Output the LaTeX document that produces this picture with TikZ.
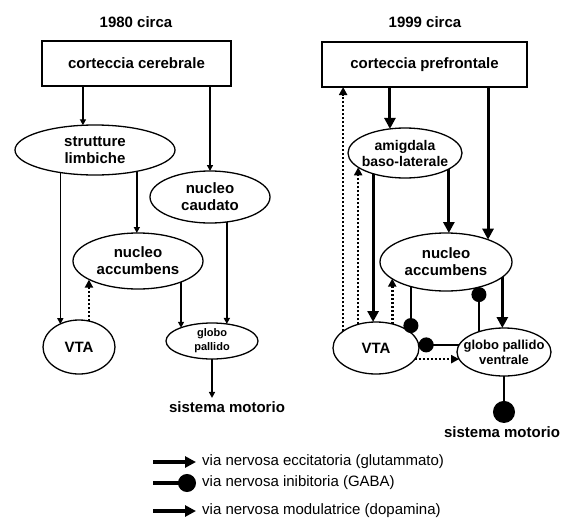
\documentclass[tikz,border=0pt]{standalone}
\usepackage{fontspec}
\setmainfont{Liberation Sans}
\usetikzlibrary{shapes.geometric,arrows.meta}
\pgfdeclarelayer{bg}
\pgfsetlayers{bg,main}
\tikzstyle{area}=[draw=black, line width=1.3pt, outer sep=0pt, minimum width=189pt, minimum height=45pt, font=\bfseries\fontsize{15}{17}\selectfont]
\tikzstyle{region}=[draw=black, shape=ellipse, line width=1.3pt, inner sep=0pt, outer sep=0pt, align=center, font=\bfseries\fontsize{15}{17}\selectfont]
\tikzstyle{tag}=[font=\bfseries\fontsize{15}{17}\selectfont]
\tikzstyle{link}=[line width=1.4pt, -{Triangle[length=6pt,width=6pt]}]
\tikzstyle{exc}=[line width=3pt, -{Triangle[length=11pt,width=11pt]}]
\tikzstyle{inh}=[line width=1.8pt, -{Circle[length=15pt]}]
\tikzstyle{mod}=[line width=2.6pt, dash pattern=on 2pt off 2pt, -{Triangle[length=8pt,width=8pt]}]
\tikzstyle{key}=[line width=3.5pt]
\tikzstyle{keytxt}=[anchor=west, inner xsep=6pt, font=\fontsize{15}{17}\selectfont]

\begin{document}
\begin{tikzpicture}[x=1pt, y=-1pt]
    \useasboundingbox (0,0) rectangle (567,522);

    % 1980
    \node [tag] (t80) at (136, 22) {1980 circa};
    \node [area] (cc) at (136.5, 63.5) {corteccia cerebrale};
    \node [region, minimum width=160pt, minimum height=50pt] (sl) at (95, 150) {strutture\\limbiche};
    \node [region, minimum width=120pt, minimum height=52pt] (nc) at (210, 197) {nucleo\\caudato};
    \node [region, minimum width=130pt, minimum height=56pt] (na) at (138, 261) {nucleo\\accumbens};
    \node [region, minimum width=72pt, minimum height=54pt] (vta) at (79, 347) {VTA};
    \node [region, minimum width=92pt, minimum height=36pt, font=\bfseries\fontsize{11}{14}\selectfont] (gp) at (212, 341) {globo\\pallido};
    \node [tag] (sm) at (227, 407) {sistema motorio};

    % 1999
    \node [tag] (t99) at (425, 22) {1999 circa};
    \node [area, minimum width=205pt] (cp) at (424.5, 64.5) {corteccia prefrontale};
    \node [region, minimum width=114pt, minimum height=50pt, inner xsep=-4pt, font=\bfseries\fontsize{14}{16}\selectfont] (am) at (405, 153) {amigdala\\baso-laterale};
    \node [region, minimum width=132pt, minimum height=58pt] (nar) at (446, 262) {nucleo\\accumbens};
    \node [region, minimum width=86pt, minimum height=52pt] (vtar) at (376, 348) {VTA};
    \node [region, minimum width=94pt, minimum height=48pt, inner xsep=-9pt, font=\bfseries\fontsize{13}{15}\selectfont] (gpv) at (504, 352) {globo pallido\\ventrale};
    \node [tag] (smr) at (502, 432) {sistema motorio};

    % legend
    \coordinate (k1) at (153, 462);
    \coordinate (k2) at (153, 483);
    \coordinate (k3) at (153, 511);
    \node [keytxt] (e1) at (196, 462) {via nervosa eccitatoria (glutammato)};
    \node [keytxt] (e2) at (196, 483) {via nervosa inibitoria (GABA)};
    \node [keytxt] (e3) at (196, 511) {via nervosa modulatrice (dopamina)};

    \begin{pgfonlayer}{bg}
        \draw [link] (cc.south -| sl.116) -- (sl.116);
        \draw [link] (cc.south -| nc.north) -- (nc.north);
        \draw [link] (sl.-27) -- (sl.-27 |- na.north);
        \draw [link] (sl.-147) -- (sl.-147 |- vta.130);
        \draw [link] (nc.-56) -- (nc.-56 |- gp.49);
        \draw [link] (na.-26) -- (na.-26 |- gp.157);
        \draw [link] (gp.south) -- (gp.south |- sm.north);
        \draw [mod] (vta.69) -- (vta.69 |- na.-159);

        \draw [exc] (cp.south -| am.122) -- (am.122);
        \draw [exc] (cp.south -| nar.28) -- (nar.28);
        \draw [exc] (am.-20) -- (am.-20 |- nar.north);
        \draw [exc] (am.-147) -- (am.-147 |- vtar.north);
        \draw [exc] (nar.-15) -- (nar.-15 |- gpv.north);
        \draw [inh] (nar.-145) -- (nar.-145 |- vtar.23);
        \draw [inh] (gpv.141) -- (gpv.141 |- nar.-37);
        \draw [inh] (gpv.171) -- (vtar.4 |- gpv.171);
        \draw [inh, line width=2.6pt, -{Circle[length=22pt]}] (gpv.south) -- (gpv.south |- smr.north);
        \draw [mod] (vtar.153) -- (vtar.153 |- cp.south);
        \draw [mod] (vtar.127) -- (vtar.127 |- am.-163);
        \draw [mod] (vtar.56) -- (vtar.56 |- nar.-163);
        \draw [mod] (vtar.-16) -- (gpv.-171 |- vtar.-16);

        \draw [key, -{Triangle[length=11pt,width=11pt]}] (k1) -- (e1.west);
        \draw [key, -{Circle[length=18pt]}] (k2) -- (e2.west);
        \draw [key, -{Triangle[length=11pt,width=11pt]}] (k3) -- (e3.west);
    \end{pgfonlayer}
\end{tikzpicture}
\end{document}
